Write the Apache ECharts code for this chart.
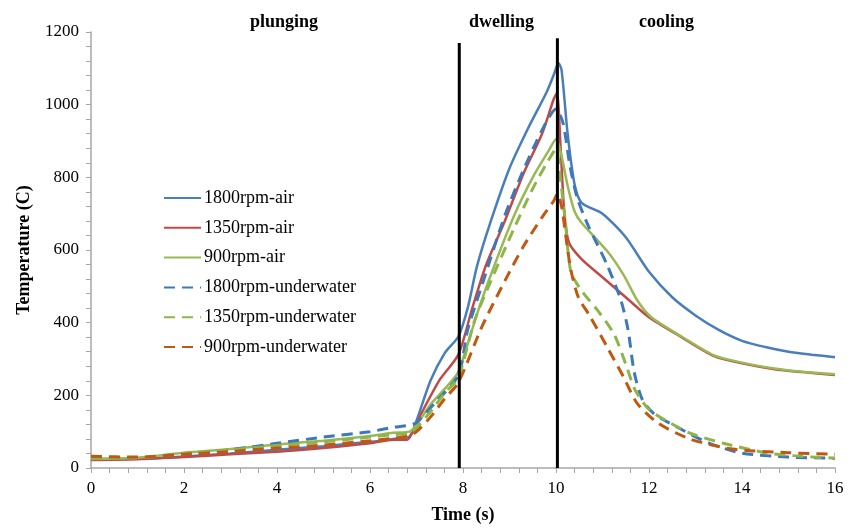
<!DOCTYPE html>
<html>
<head>
<meta charset="utf-8">
<script src="https://cdn.jsdelivr.net/npm/echarts@6/dist/echarts.min.js"></script>
<style>html,body{margin:0;padding:0;background:#fff;overflow:hidden}#c{width:856px;height:529px}</style>
</head>
<body>
<div id="c"></div>
<script>
// ---- data ----
const xTicks = [0, 2, 4, 6, 8, 10, 12, 14, 16];
const yTicks = [0, 200, 400, 600, 800, 1000, 1200];
const seriesNames = ['1800rpm-air', '1350rpm-air', '900rpm-air', '1800rpm-underwater', '1350rpm-underwater', '900rpm-underwater'];

const t1800air = [0,1,2,3,4,5,6,6.5,6.85,7.0,7.3,7.6,7.9,8.1,8.3,8.6,9.0,9.4,9.8,9.96,10.05,10.12,10.25,10.4,10.55,11,11.5,12,12.5,13,13.5,14,14.5,15,15.5,16];
const v1800air = [25,26,32,40,50,60,72,80,87,130,240,315,362,440,555,680,825,935,1035,1085,1115,1095,920,780,730,700,635,540,470,420,380,350,333,320,312,305];

const t1350air = [0,1,2,3,4,5,6,6.5,6.8,7.0,7.5,7.9,8.2,8.5,8.9,9.3,9.7,9.95,10.02,10.1,10.18,10.28,10.55,11.0,11.5,12.0,12.7,13.4,14,14.7,15.3,16];
const v1350air = [22,24,30,38,45,55,68,78,78,125,243,312,440,560,680,810,920,1015,1032,880,700,620,575,525,470,415,360,308,288,272,264,256];

const t900air = [0,1,2,3,4,5,6,6.5,6.85,7.0,7.3,7.65,7.9,8.3,8.6,9.1,9.5,9.85,10.0,10.1,10.25,10.4,10.55,11.1,11.45,11.75,12.05,12.7,13.4,14,14.7,15.3,16];
const v900air = [25,28,42,52,65,75,88,97,100,118,175,224,265,423,532,695,800,875,905,870,777,706,675,597,532,461,415,362,310,290,274,265,258];

const t1800uw = [0,1,2,3,4,5,6,6.5,6.85,7.0,7.4,7.9,8.1,8.4,8.9,9.3,9.7,10.0,10.15,10.3,10.46,10.7,11.1,11.4,11.55,11.68,11.85,12.1,12.7,13.3,14,15,16];
const v1800uw = [28,28,38,50,68,85,100,112,118,125,180,255,380,500,695,820,930,988,950,832,742,665,559,460,380,265,190,150,106,68,41,30,27];

const t1350uw = [0,1,2,3,4,5,6,6.5,6.85,7.0,7.3,7.6,7.9,8.25,8.6,9.1,9.5,9.82,10.0,10.1,10.2,10.32,10.55,10.9,11.25,11.5,11.7,12.0,12.4,12.9,13.6,14.55,15.3,16];
const v1350uw = [27,28,40,50,62,72,85,92,95,110,155,205,250,406,515,660,769,843,878,790,680,540,488,433,368,286,215,161,128,95,68,41,32,27];

const t900uw = [0,1,2,3,4,5,6,6.5,6.85,7.0,7.3,7.6,7.9,8.4,8.9,9.3,9.7,9.95,10.03,10.12,10.22,10.32,10.48,10.72,11.1,11.45,11.75,12.2,12.9,13.8,15,16];
const v900uw = [32,30,38,45,55,63,75,82,88,100,140,190,235,387,515,610,690,735,755,720,630,545,470,420,333,251,177,123,79,52,42,38];

const stageLines = [7.92, 10.03];
const stageTops = [1170, 1183];
const stageLabels = ['plunging', 'dwelling', 'cooling'];

const colors = ['#4a7ebb', '#be4b48', '#98b954', '#3d78b8', '#8db54a', '#c0580f'];

function pairs(t, v) { return t.map((x, i) => [x, v[i]]); }
const allData = [
  pairs(t1800air, v1800air), pairs(t1350air, v1350air), pairs(t900air, v900air),
  pairs(t1800uw, v1800uw), pairs(t1350uw, v1350uw), pairs(t900uw, v900uw)
];

const serif = '"Liberation Serif", "Times New Roman", serif';
const series = allData.map((d, i) => ({
  name: seriesNames[i],
  type: 'line',
  data: d,
  symbol: 'none',
  showSymbol: false,
  smooth: 0.25,
  z: 3,
  lineStyle: { color: colors[i], width: i < 3 ? 2.5 : 3, type: i < 3 ? 'solid' : [11, 7] },
  itemStyle: { color: colors[i] }
}));
stageLines.forEach((x, i) => {
  series.push({
    type: 'line', data: [[x, 0], [x, stageTops[i]]], symbol: 'none', z: 4,
    lineStyle: { color: '#000', width: 3 }, silent: true
  });
});

const chart = echarts.init(document.getElementById('c'), null, { renderer: 'canvas' });
chart.setOption({
  animation: false,
  backgroundColor: '#fff',
  grid: { left: 91, right: 21, top: 32, bottom: 57, containLabel: false },
  xAxis: {
    type: 'value', min: 0, max: 16, interval: 2,
    name: 'Time (s)', nameLocation: 'middle', nameGap: 38,
    nameTextStyle: { fontFamily: serif, fontWeight: 'bold', fontSize: 18, color: '#000' },
    axisLine: { lineStyle: { color: '#a6a6a6', width: 1.5 } },
    axisTick: { show: true, length: 5, lineStyle: { color: '#a6a6a6' } },
    minorTick: { show: true, splitNumber: 5, length: 5, lineStyle: { color: '#a6a6a6' } },
    splitLine: { show: false },
    axisLabel: { fontFamily: serif, fontSize: 17, color: '#000', margin: 12,
      formatter: v => xTicks.includes(v) ? String(v) : '' }
  },
  yAxis: {
    type: 'value', min: 0, max: 1200, interval: 200,
    name: 'Temperature (C)', nameLocation: 'middle', nameGap: 58, nameRotate: 90,
    nameTextStyle: { fontFamily: serif, fontWeight: 'bold', fontSize: 18, color: '#000' },
    axisLine: { show: true, lineStyle: { color: '#a6a6a6', width: 1.5 } },
    axisTick: { show: true, length: 5, lineStyle: { color: '#a6a6a6' } },
    minorTick: { show: true, splitNumber: 5, length: 5, lineStyle: { color: '#a6a6a6' } },
    splitLine: { show: false },
    axisLabel: { fontFamily: serif, fontSize: 17, color: '#000', margin: 12,
      formatter: v => yTicks.includes(v) ? String(v) : '' }
  },
  legend: {
    data: seriesNames,
    orient: 'vertical', left: 158, top: 184,
    itemWidth: 37, itemHeight: 14, itemGap: 11.8,
    itemStyle: { opacity: 0 },
    textStyle: { fontFamily: serif, fontSize: 18, color: '#000', lineHeight: 18, padding: [0, 0, 0, -2] }
  },
  graphic: [
    { type: 'text', left: 250, top: 13, style: { text: stageLabels[0], font: 'bold 18px ' + serif, fill: '#000' } },
    { type: 'text', left: 469, top: 13, style: { text: stageLabels[1], font: 'bold 18px ' + serif, fill: '#000' } },
    { type: 'text', left: 639, top: 13, style: { text: stageLabels[2], font: 'bold 18px ' + serif, fill: '#000' } }
  ],
  series: series
});
</script>
</body>
</html>
